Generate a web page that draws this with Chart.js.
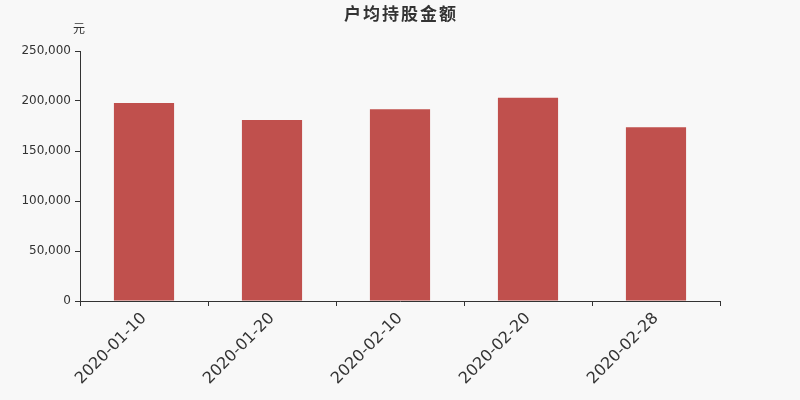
<!DOCTYPE html>
<html lang="zh">
<head>
<meta charset="UTF-8">
<title>户均持股金额</title>
<style>
  html, body { margin: 0; padding: 0; background: #f8f8f8; }
  #wrap { width: 800px; height: 400px; }
</style>
</head>
<body>
<div id="wrap"><canvas id="myChart"></canvas></div>
<script src="https://cdn.jsdelivr.net/npm/chart.js"></script>
<script>
const dates = ['2020-01-10', '2020-01-20', '2020-02-10', '2020-02-20', '2020-02-28'];
const amounts = [198000, 181000, 191700, 203300, 173700];
const chartTitle = '户均持股金额';
const unitLabel = '元';

// title and unit text drawn on the canvas
const textPlugin = {
    id: 'textPlugin',
    afterDraw(chart) {
        const c = chart.ctx;
        c.save();
        c.fillStyle = '#333';
        c.textAlign = 'center';
        c.textBaseline = 'middle';
        c.font = 'bold 17px "Noto Sans CJK SC", "DejaVu Sans", sans-serif';
        if ('letterSpacing' in c) c.letterSpacing = '2px';
        c.fillText(chartTitle, 401, 14);
        if ('letterSpacing' in c) c.letterSpacing = '0px';
        c.font = '12px "Noto Sans CJK SC", "DejaVu Sans", sans-serif';
        c.fillText(unitLabel, 79, 28);
        c.restore();
    }
};

const bgPlugin = {
    id: 'bg',
    beforeDraw(chart) {
        const c = chart.ctx;
        c.save();
        c.fillStyle = '#f8f8f8';
        c.fillRect(0, 0, chart.width, chart.height);
        c.restore();
    }
};

const ctx = document.getElementById('myChart');

new Chart(ctx, {
    type: 'bar',
    data: {
        labels: dates,
        datasets: [{
            label: chartTitle,
            data: amounts,
            backgroundColor: '#c0504d',
            barPercentage: 0.94,
            categoryPercentage: 0.5
        }]
    },
    options: {
        responsive: true,
        maintainAspectRatio: false,
        animation: false,
        layout: { padding: { top: 51, right: 80, left: 0, bottom: 0 } },
        plugins: {
            legend: { display: false },
            title: { display: false },
            tooltip: { enabled: false }
        },
        scales: {
            x: {
                afterFit(scale) { scale.height = 99; },
                border: { color: '#333', width: 1 },
                grid: { display: true, drawOnChartArea: false, color: '#333', tickLength: 5, offset: true },
                ticks: {
                    color: '#333',
                    font: { family: '"DejaVu Sans"', size: 16 },
                    minRotation: 45,
                    maxRotation: 45,
                    autoSkip: false
                }
            },
            y: {
                min: 0,
                max: 250000,
                afterFit(scale) { scale.width = 80; },
                border: { color: '#333', width: 1 },
                grid: { display: true, drawOnChartArea: false, color: '#333', tickLength: 5 },
                ticks: {
                    stepSize: 50000,
                    color: '#333',
                    padding: 4,
                    font: { family: '"DejaVu Sans"', size: 12 },
                    callback: v => v.toLocaleString('en-US')
                }
            }
        }
    },
    plugins: [bgPlugin, textPlugin]
});
</script>
</body>
</html>
